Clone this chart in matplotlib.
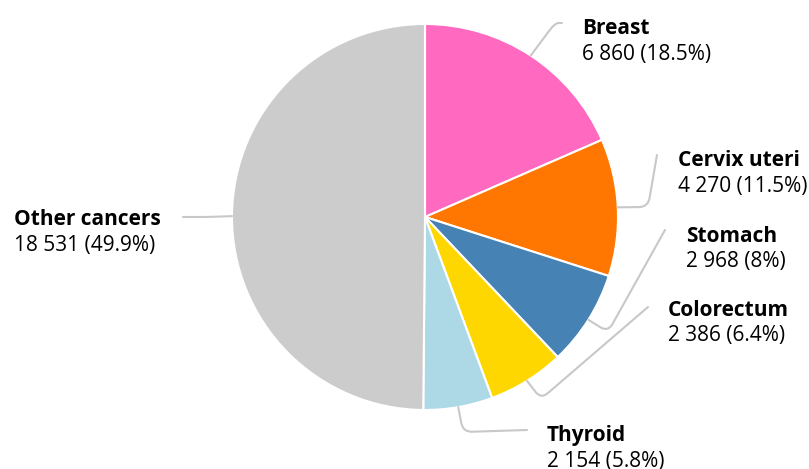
import numpy as np
import matplotlib.pyplot as plt
from matplotlib.path import Path
from matplotlib.patches import PathPatch

# Data
sites = ['Breast', 'Cervix uteri', 'Stomach', 'Colorectum', 'Thyroid', 'Other cancers']
cases = [6860, 4270, 2968, 2386, 2154, 18531]
colors = ['#ff69c0', '#ff7700', '#4682b4', '#ffd700', '#add8e6', '#cccccc']

W, H = 809, 469
plt.rcParams['font.family'] = ['Open Sans', 'DejaVu Sans']

fig = plt.figure(figsize=(W / 100, H / 100), dpi=100)
ax = fig.add_axes([0, 0, 1, 1])

cx, cy, R = 425, H - 217, 193
wedges, _ = ax.pie(cases, colors=colors, startangle=90, counterclock=False,
                   center=(cx, cy), radius=R,
                   wedgeprops=dict(edgecolor='white', linewidth=1.5))
ax.set_xlim(0, W)
ax.set_ylim(0, H)
ax.set_aspect('equal')
ax.axis('off')

total = sum(cases)

# label layout in pixel coords (y from top): elbow, line end, text x, text y
layout = [
    ((555, 23), (562, 23), 582, 28),
    ((648, 207), (657, 155), 678, 160),
    ((608, 332), (665, 230), 686, 236),
    ((541, 399), (648, 307), 668, 310),
    ((463, 432), (527, 430), 547, 436),
    ((207, 217), (183, 217), 14, 219),
]


def rounded_leader(p0, p1, p2, r=9):
    p0, p1, p2 = map(np.array, (p0, p1, p2))
    d0 = p0 - p1
    d2 = p2 - p1
    r0 = min(r, np.linalg.norm(d0) / 2)
    r2 = min(r, np.linalg.norm(d2) / 2)
    a = p1 + r0 * d0 / np.linalg.norm(d0)
    b = p1 + r2 * d2 / np.linalg.norm(d2)
    verts = [p0, a, p1, b, p2]
    codes = [Path.MOVETO, Path.LINETO, Path.CURVE3, Path.CURVE3, Path.LINETO]
    return PathPatch(Path(verts, codes), fill=False, edgecolor='#c8c8c8',
                     linewidth=1.5, capstyle='round')


for w, name, val, (elbow, end, tx, ty) in zip(wedges, sites, cases, layout):
    ang = np.deg2rad((w.theta1 + w.theta2) / 2)
    start = (cx + R * np.cos(ang), cy + R * np.sin(ang))
    ax.add_patch(rounded_leader(start, (elbow[0], H - elbow[1]), (end[0], H - end[1])))
    pct = round(val / total * 100, 1)
    num = f'{val:,}'.replace(',', ' ')
    ax.text(tx, H - ty, name, fontsize=15, fontweight='bold', va='center', ha='left')
    ax.text(tx, H - ty - 26, f'{num} ({pct:g}%)', fontsize=15, va='center', ha='left')

fig.savefig('out.png', dpi=100)
